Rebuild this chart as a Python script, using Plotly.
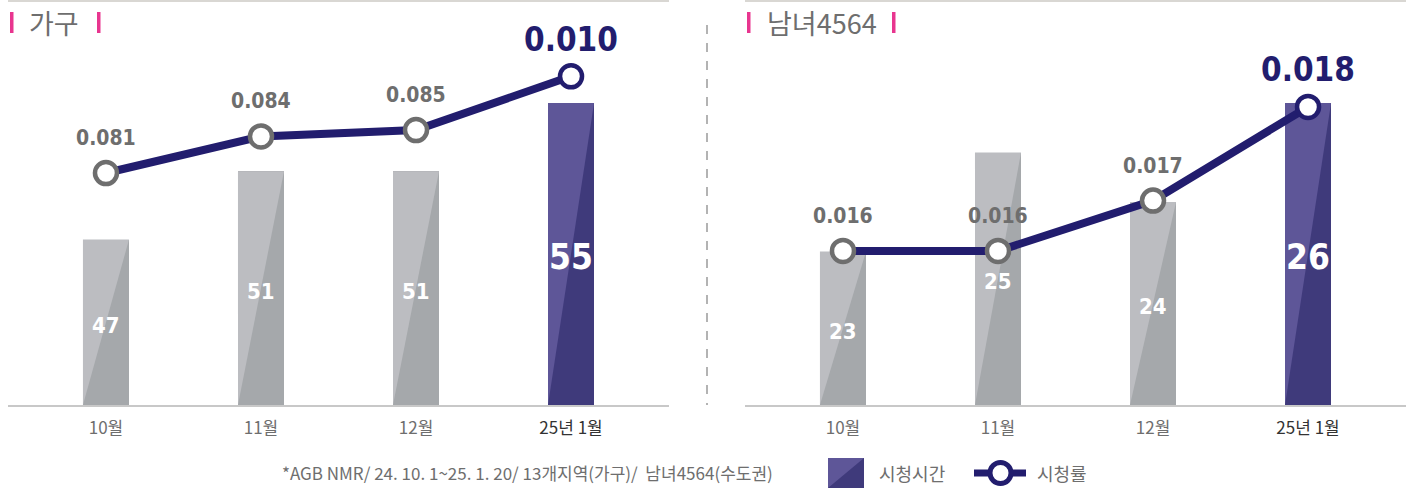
import plotly.graph_objects as go

# ---------------- data ----------------
categories = ["10월", "11월", "12월", "25년 1월"]

# 가구 (households)
hh_time = [47, 51, 51, 55]                     # 시청시간 bars
hh_rating = [0.081, 0.0844, 0.085, 0.090]      # 시청률 line (position)
hh_rating_labels = ["0.081", "0.084", "0.085", "0.010"]  # printed labels

# 남녀4564
mw_time = [23, 25, 24, 26]
mw_rating = [0.016, 0.016, 0.0167, 0.018]
mw_rating_labels = ["0.016", "0.016", "0.017", "0.018"]

panel_titles = ["가구", "남녀4564"]
footnote = "*AGB NMR/ 24. 10. 1~25. 1. 20/ 13개지역(가구)/  남녀4564(수도권)"
legend_labels = ["시청시간", "시청률"]

# ---------------- styling ----------------
W, H = 1415, 489
NAVY = "#221d6e"
GRAY_TXT = "#6e6e6e"
GRAY_LIGHT, GRAY_DARK = "#bcbdc1", "#a5a8ab"
PUR_LIGHT, PUR_DARK = "#5e5698", "#3f3a7b"
PINK = "#e8358f"
FONT = "DejaVu Sans Condensed, Liberation Sans Narrow, Roboto, Noto Sans CJK KR, sans-serif"
KFONT = "Noto Sans CJK KR, sans-serif"


def px_x(p):
    return p / W


def px_y(p):
    return 1 - p / H


BAR_W = 0.297
XR = [-0.632, 3.632]
Y_DOM = [px_y(405), px_y(30)]

panels = [
    dict(vals=hh_time, rate=hh_rating, labels=hh_rating_labels,
         yrange=[37.3, 59.28], y2range=[0.059419, 0.094303],
         xdom=[px_x(8), px_x(669)], xa="x", ya="y", ya2="y2"),
    dict(vals=mw_time, rate=mw_rating, labels=mw_rating_labels,
         yrange=[19.9, 27.476], y2range=[0.013861, 0.019069],
         xdom=[px_x(745), px_x(1406)], xa="x2", ya="y3", ya2="y4"),
]

fig = go.Figure()
annotations = []
shapes = []

xs = list(range(len(categories)))
for pi, p in enumerate(panels):
    base = p["yrange"][0]
    n = len(p["vals"])
    dark = [GRAY_DARK] * (n - 1) + [PUR_DARK]
    light = [GRAY_LIGHT] * (n - 1) + [PUR_LIGHT]
    fig.add_trace(go.Bar(
        x=xs, y=[v - base for v in p["vals"]], base=base, width=BAR_W,
        marker=dict(color=dark, line=dict(width=0)),
        xaxis=p["xa"], yaxis=p["ya"], hoverinfo="skip", showlegend=False))
    for i, v in enumerate(p["vals"]):
        fig.add_trace(go.Scatter(
            x=[i - BAR_W / 2, i - BAR_W / 2, i + BAR_W / 2, i - BAR_W / 2],
            y=[base, v, v, base], mode="lines", fill="toself",
            fillcolor=light[i], line=dict(width=0),
            xaxis=p["xa"], yaxis=p["ya"], hoverinfo="skip", showlegend=False))
        big = i == n - 1
        annotations.append(dict(
            x=i, y=(v + base) / 2, xref=p["xa"], yref=p["ya"],
            text=f"<b>{v}</b>", showarrow=False, yshift=-3,
            font=dict(family=FONT, size=35 if big else 22, color="white")))
    mcol = [GRAY_TXT] * (n - 1) + [NAVY]
    fig.add_trace(go.Scatter(
        x=xs, y=p["rate"], mode="lines+markers",
        line=dict(color=NAVY, width=8),
        marker=dict(size=22, color="white", line=dict(color=mcol, width=4.5)),
        xaxis=p["xa"], yaxis=p["ya2"], hoverinfo="skip", showlegend=False))
    for i, (r, lab) in enumerate(zip(p["rate"], p["labels"])):
        big = i == n - 1
        annotations.append(dict(
            x=i, y=r, xref=p["xa"], yref=p["ya2"], text=f"<b>{lab}</b>",
            showarrow=False, yshift=37 if big else 35,
            font=dict(family=FONT, size=33 if big else 21,
                      color=NAVY if big else GRAY_TXT)))

tick_common = dict(
    tickmode="array", tickvals=xs,
    ticktext=[f"<span style='color:{'#333333' if i == 3 else GRAY_TXT}'>{c}</span>"
              for i, c in enumerate(categories)],
    tickfont=dict(family=KFONT, size=17, color=GRAY_TXT),
    range=XR, showgrid=False, zeroline=False,
    showline=True, linecolor="#c8c8c8", linewidth=2,
    ticks="outside", ticklen=7, tickcolor="rgba(0,0,0,0)", fixedrange=True)
yhide = dict(showgrid=False, zeroline=False, showticklabels=False,
             showline=False, ticks="", fixedrange=True)

fig.update_layout(
    xaxis=dict(domain=panels[0]["xdom"], anchor="y", **tick_common),
    xaxis2=dict(domain=panels[1]["xdom"], anchor="y3", **tick_common),
    yaxis=dict(domain=Y_DOM, range=panels[0]["yrange"], anchor="x", **yhide),
    yaxis2=dict(domain=Y_DOM, range=panels[0]["y2range"], overlaying="y",
                anchor="x", side="right", **yhide),
    yaxis3=dict(domain=Y_DOM, range=panels[1]["yrange"], anchor="x2", **yhide),
    yaxis4=dict(domain=Y_DOM, range=panels[1]["y2range"], overlaying="y3",
                anchor="x2", side="right", **yhide),
)

# top rules and divider
for x0, x1 in [(8, 669), (745, 1406)]:
    shapes.append(dict(type="line", xref="paper", yref="paper",
                       x0=px_x(x0), x1=px_x(x1), y0=px_y(1), y1=px_y(1),
                       line=dict(color="#d9d7d3", width=2)))
shapes.append(dict(type="line", xref="paper", yref="paper",
                   x0=px_x(707), x1=px_x(707), y0=px_y(25), y1=px_y(405),
                   line=dict(color="#9a9a9a", width=1.5, dash="dash")))

# panel titles with pink bars
for title, (bx0, tx, bx1) in zip(panel_titles, [(10, 27, 97), (747, 765, 892)]):
    for bx in (bx0, bx1):
        shapes.append(dict(type="rect", xref="paper", yref="paper",
                           x0=px_x(bx), x1=px_x(bx + 3.5), y0=px_y(33), y1=px_y(12),
                           fillcolor=PINK, line=dict(width=0)))
    annotations.append(dict(x=px_x(tx), y=px_y(22), xref="paper", yref="paper",
                            xanchor="left", yanchor="middle", showarrow=False,
                            text=title, font=dict(family=KFONT, size=27, color=GRAY_TXT)))

# footnote
annotations.append(dict(x=px_x(280), y=px_y(472), xref="paper", yref="paper",
                        xanchor="left", yanchor="middle", showarrow=False,
                        text=footnote, font=dict(family=KFONT, size=17, color=GRAY_TXT)))

# legend: bar swatch
lx0, lx1, ly0, ly1 = 828, 864, 458, 488
shapes.append(dict(type="rect", xref="paper", yref="paper",
                   x0=px_x(lx0), x1=px_x(lx1), y0=px_y(ly1), y1=px_y(ly0),
                   fillcolor=PUR_DARK, line=dict(width=0)))
shapes.append(dict(type="path", xref="paper", yref="paper",
                   path=f"M {px_x(lx0)},{px_y(ly1)} L {px_x(lx0)},{px_y(ly0)} L {px_x(lx1)},{px_y(ly0)} Z",
                   fillcolor=PUR_LIGHT, line=dict(width=0)))
annotations.append(dict(x=px_x(877), y=px_y(473), xref="paper", yref="paper",
                        xanchor="left", yanchor="middle", showarrow=False,
                        text=legend_labels[0], font=dict(family=KFONT, size=18, color=GRAY_TXT)))
# legend: line swatch
shapes.append(dict(type="line", xref="paper", yref="paper",
                   x0=px_x(974), x1=px_x(1026), y0=px_y(473), y1=px_y(473),
                   line=dict(color=NAVY, width=7)))
shapes.append(dict(type="circle", xref="paper", yref="paper",
                   x0=px_x(990), x1=px_x(1011), y0=px_y(483.5), y1=px_y(462.5),
                   fillcolor="white", line=dict(color=NAVY, width=5)))
annotations.append(dict(x=px_x(1035), y=px_y(473), xref="paper", yref="paper",
                        xanchor="left", yanchor="middle", showarrow=False,
                        text=legend_labels[1], font=dict(family=KFONT, size=18, color=GRAY_TXT)))

fig.update_layout(
    width=W, height=H, margin=dict(l=0, r=0, t=0, b=0),
    paper_bgcolor="white", plot_bgcolor="white",
    showlegend=False, bargap=0,
    annotations=annotations, shapes=shapes,
)

fig.write_html("out.html", config={"displayModeBar": False},
               post_script="document.body.style.margin='0';document.body.style.padding='0';")
